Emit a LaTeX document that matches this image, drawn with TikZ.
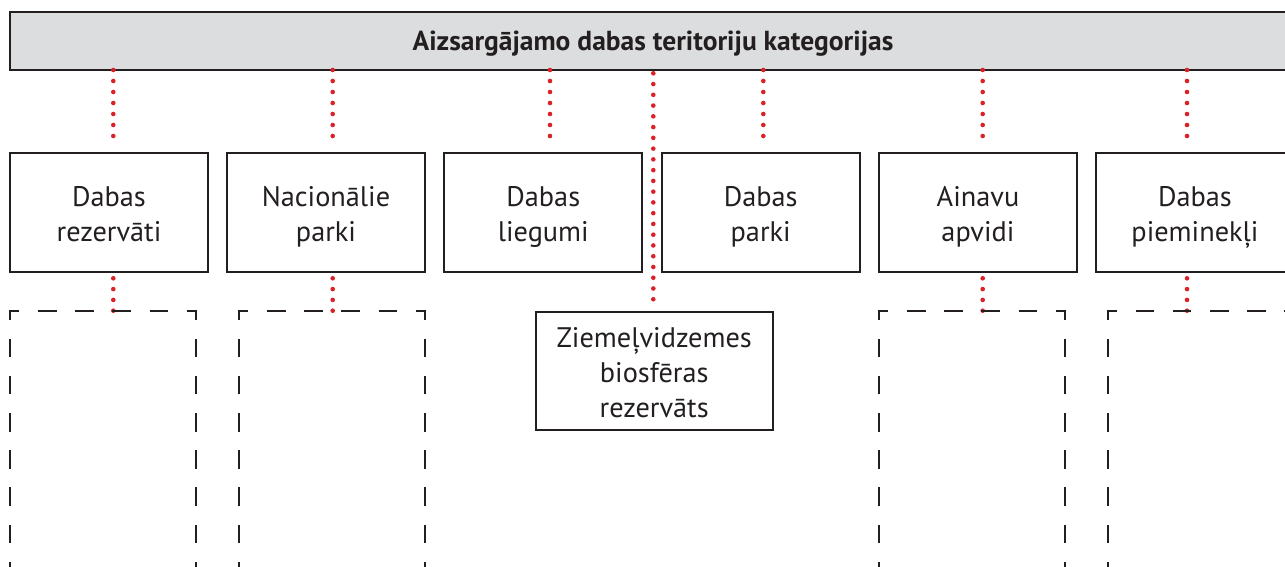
\documentclass[tikz,border=0pt]{standalone}
\usepackage{fontspec}
\setmainfont{PT Sans}
\definecolor{inkc}{HTML}{231F20}
\definecolor{barc}{HTML}{DCDDDE}
\definecolor{dotc}{HTML}{DA2128}
\newcommand\ktop{\rule{0pt}{30.6pt}}
\newcommand\kbot{\rule[-8pt]{0pt}{8pt}}
\begin{document}
\begin{tikzpicture}[x=1pt,y=-1pt,
  ink/.style={draw=inkc,line width=2pt,outer sep=0pt},
  catbox/.style={ink, fill=barc, minimum width=1286pt, minimum height=58pt, inner sep=0pt,
    font=\fontsize{27.5}{30}\selectfont\bfseries, text=inkc},
  kbox/.style={ink, minimum width=198pt, minimum height=119pt, align=center, inner sep=0pt,
    font=\fontsize{28.3}{35}\selectfont, text=inkc},
  dots/.style={draw=dotc, line width=4.6pt, line cap=round, dash pattern=on 0pt off #1},
  dots/.default=11pt,
  dashbox/.style={draw=inkc, line width=2pt, dash pattern=on 18.6pt off 18.6pt, dash phase=9.3pt}
]
\useasboundingbox (0,0) rectangle (1285,567);
\clip (0,0) rectangle (1285,567);

% header
\node[catbox] (cat) at (653,41) {\rule{0pt}{26pt}Aizsargājamo dabas teritoriju kategorijas\rule[-6pt]{0pt}{6pt}};

% category boxes
\node[kbox] (b1) at (109,212.2) {\ktop Dabas\\rezervāti\kbot};
\node[kbox] (b2) at (326,212.2) {\ktop Nacionālie\\parki\kbot};
\node[kbox] (b3) at (543.3,212.2) {\ktop Dabas\\liegumi\kbot};
\node[kbox] (b4) at (760.7,212.2) {\ktop Dabas\\parki\kbot};
\node[kbox] (b5) at (978,212.2) {\ktop Ainavu\\apvidi\kbot};
\node[kbox] (b6) at (1195,212.2) {\ktop Dabas\\pieminekļi\kbot};
\node[kbox, minimum width=237pt, minimum height=118.3pt] (bio) at (654.2,370.8)
  {\ktop Ziemeļvidzemes\\biosfēras\\rezervāts\kbot};

% dashed (open) boxes: top corners
\coordinate (d1) at (103,310.7);
\coordinate (d2) at (332,310.7);
\coordinate (d3) at (972,310.7);
\coordinate (d4) at (1200.7,310.7);

% connector x positions
\coordinate (x1) at (113.3,0);
\coordinate (x2) at (332.7,0);
\coordinate (x3) at (550,0);
\coordinate (x4) at (763.3,0);
\coordinate (x5) at (982.7,0);
\coordinate (x6) at (1187,0);
\coordinate (xc) at (653.3,0);

% dotted connectors header -> categories
\draw[dots, shorten >=5.7pt] (cat.south -| x1) -- (b1.north -| x1);
\draw[dots, shorten >=5.7pt] (cat.south -| x2) -- (b2.north -| x2);
\draw[dots, shorten >=5.7pt] (cat.south -| x3) -- (b3.north -| x3);
\draw[dots, shorten >=5.7pt] (cat.south -| x4) -- (b4.north -| x4);
\draw[dots, shorten >=5.7pt] (cat.south -| x5) -- (b5.north -| x5);
\draw[dots, shorten >=5.7pt] (cat.south -| x6) -- (b6.north -| x6);
\draw[dots=10.76pt, shorten <=3.3pt, shorten >=2.4pt] (cat.south -| xc) -- (bio.north -| xc);

% dotted connectors categories -> dashed boxes
\draw[dots=10.8pt, shorten <=6.6pt] (b1.south -| x1) -- (d1 -| x1);
\draw[dots=10.8pt, shorten <=6.6pt] (b2.south -| x2) -- (d2 -| x2);
\draw[dots=10.8pt, shorten <=6.6pt] (b5.south -| x5) -- (d3 -| x5);
\draw[dots=10.8pt, shorten <=6.6pt] (b6.south -| x6) -- (d4 -| x6);

% dashed boxes (open at the bottom, beyond the picture)
\draw[dashbox] (10,608.3) -- (10,310.7) -- (196,310.7) -- (196,608.3);
\draw[dashbox] (239,608.3) -- (239,310.7) -- (425,310.7) -- (425,608.3);
\draw[dashbox] (879,608.3) -- (879,310.7) -- (1065,310.7) -- (1065,608.3);
\draw[dashbox] (1107.7,608.3) -- (1107.7,310.7) -- (1293.7,310.7) -- (1293.7,608.3);
\end{tikzpicture}
\end{document}
